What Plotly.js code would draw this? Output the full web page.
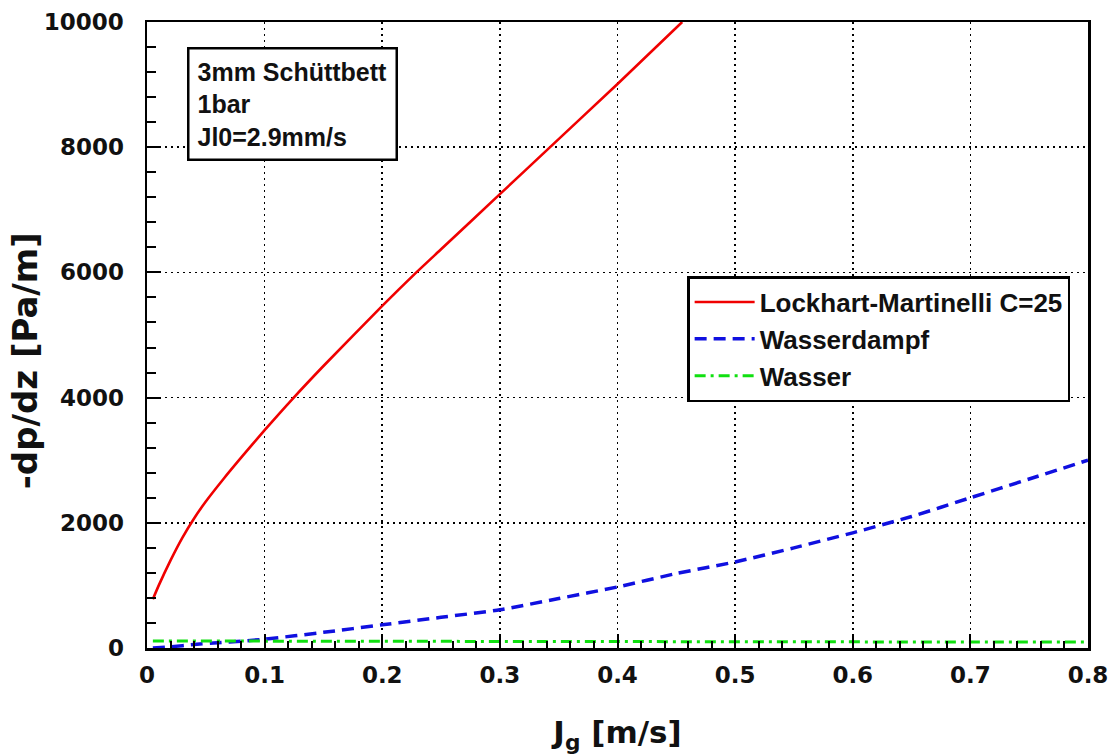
<!DOCTYPE html>
<html>
<head>
<meta charset="utf-8">
<script src="https://cdn.plot.ly/plotly-3.0.1.min.js"></script>
<style>
html,body{margin:0;padding:0;background:#fff;}
#chart{width:1112px;height:755px;}
</style>
</head>
<body>
<div id="chart"></div>
<script>
// Lockhart-Martinelli C=25
const lmX = [0.005, 0.01, 0.02, 0.03, 0.04, 0.05, 0.065, 0.08, 0.1, 0.124, 0.15, 0.2, 0.229, 0.25, 0.3, 0.342, 0.4, 0.455];
const lmY = [780, 1000, 1400, 1760, 2070, 2340, 2700, 3040, 3480, 3985, 4505, 5465, 6000, 6370, 7250, 7990, 9010, 10000];
// Wasserdampf
const wdX = [0.005, 0.02, 0.04, 0.06, 0.08, 0.1, 0.15, 0.2, 0.25, 0.3, 0.35, 0.4, 0.45, 0.5, 0.55, 0.6, 0.65, 0.7, 0.75, 0.8];
const wdY = [0, 20, 55, 85, 110, 140, 250, 370, 490, 610, 790, 975, 1190, 1375, 1600, 1840, 2100, 2400, 2700, 3000];
// Wasser
const wX = [0.005, 0.1, 0.2, 0.3, 0.4, 0.5, 0.6, 0.7, 0.8];
const wY = [112, 108, 104, 102, 100, 99, 98, 97, 96];

const seriesNames = ['Lockhart-Martinelli C=25', 'Wasserdampf', 'Wasser'];
const infoLines = ['3mm Schüttbett', '1bar', 'Jl0=2.9mm/s'];
const xTitle = 'J<sub>g</sub> [m/s]';
const yTitle = '-dp/dz [Pa/m]';

const tickFont = {family: 'DejaVu Sans', size: 23, color: '#111', weight: 'bold'};
const titleFont = {family: 'DejaVu Sans', size: 31, color: '#111', weight: 'bold'};

const traces = [
  {x: lmX, y: lmY, name: seriesNames[0], mode: 'lines', line: {color: '#f00000', width: 2.6, shape: 'spline', smoothing: 0.6}},
  {x: wdX, y: wdY, name: seriesNames[1], mode: 'lines', line: {color: '#1010e0', width: 3.5, dash: '12px,7px', shape: 'spline', smoothing: 0.5}},
  {x: wX, y: wY, name: seriesNames[2], mode: 'lines', line: {color: '#10e010', width: 3, dash: '11px,5px,3px,5px'}}
];

const axisCommon = {
  showline: true, mirror: true, linecolor: '#000', linewidth: 2.5,
  ticks: 'inside', ticklen: 14, tickwidth: 2, tickcolor: '#000',
  showgrid: true, gridcolor: '#000', gridwidth: 1.6, griddash: '2px,4px',
  zeroline: false, tickfont: tickFont
};

const layout = {
  width: 1112, height: 755,
  margin: {l: 147, r: 24, t: 22, b: 107},
  paper_bgcolor: '#fff', plot_bgcolor: '#fff',
  showlegend: true,
  xaxis: Object.assign({}, axisCommon, {
    range: [0, 0.8], dtick: 0.1, tick0: 0,
    ticklabelstandoff: 5,
    minor: {dtick: 0.02, ticks: 'inside', ticklen: 7, tickwidth: 2, tickcolor: '#000', showgrid: false},
    title: {text: xTitle, font: titleFont, standoff: 36}
  }),
  yaxis: Object.assign({}, axisCommon, {
    range: [0, 10000], dtick: 2000, tick0: 0, tickformat: 'd',
    ticklabelstandoff: 16,
    minor: {dtick: 400, ticks: 'inside', ticklen: 9, tickwidth: 2, tickcolor: '#000', showgrid: false}
  }),
  legend: {
    x: 0.574, y: 0.594, xanchor: 'left', yanchor: 'top',
    bgcolor: '#fff', bordercolor: '#000', borderwidth: 2.5,
    font: {family: 'Liberation Sans', size: 26, color: '#111', weight: 'bold'},
    itemwidth: 60,
    tracegroupgap: 0
  },
  annotations: [{
    xref: 'paper', yref: 'paper', x: 0.0425, y: 0.96, xanchor: 'left', yanchor: 'top',
    text: infoLines.join('<br>'), align: 'left', showarrow: false,
    font: {family: 'Liberation Sans', size: 25, color: '#111', weight: 'bold'},
    bordercolor: '#000', borderwidth: 2.5, borderpad: 8, bgcolor: '#fff'
  }, {
    xref: 'paper', yref: 'paper', x: 0, y: 0.458, xanchor: 'center', yanchor: 'middle',
    xshift: -122, textangle: -90, showarrow: false,
    text: yTitle, font: {family: 'DejaVu Sans', size: 34, color: '#111', weight: 'bold'}
  }]
};

Plotly.newPlot('chart', traces, layout, {displayModeBar: false, staticPlot: true});
</script>
</body>
</html>
